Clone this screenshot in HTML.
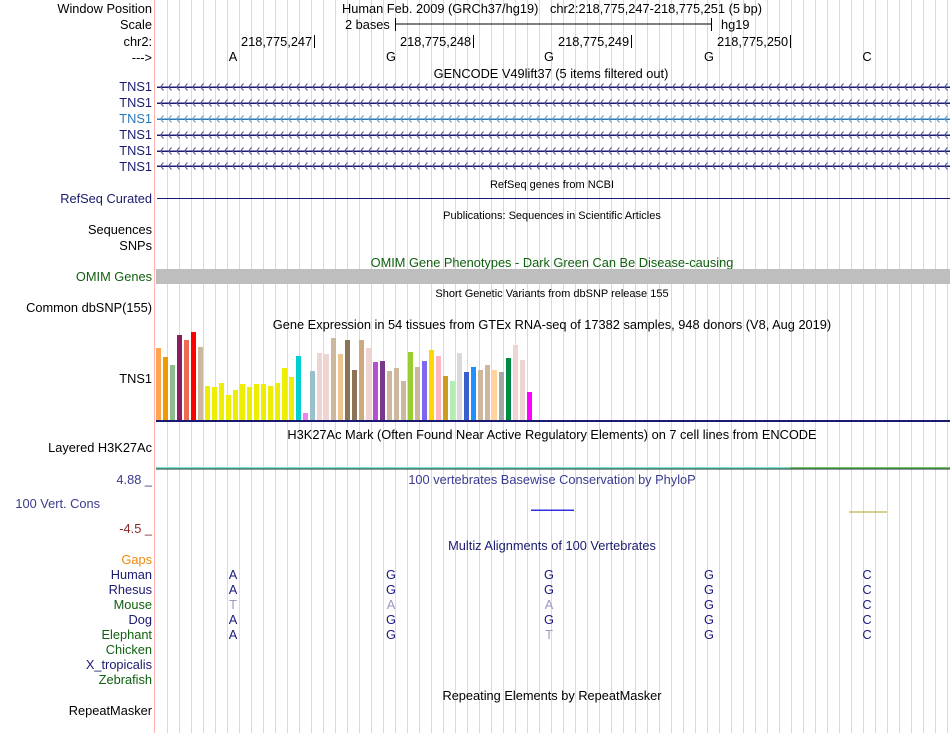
<!DOCTYPE html>
<html><head><meta charset="utf-8"><style>
html,body{margin:0;padding:0;background:#fff;}
svg{display:block;font-family:"Liberation Sans",sans-serif;}
</style></head><body>
<svg width="950" height="733" viewBox="0 0 950 733" xmlns="http://www.w3.org/2000/svg">
<defs>
<pattern id="grid" x="167" y="0" width="12" height="733" patternUnits="userSpaceOnUse">
<rect x="0" y="0" width="1" height="733" fill="#d6d6f6"/>
</pattern>
</defs>
<rect width="950" height="733" fill="#fff"/>
<rect x="156" y="0" width="794" height="733" fill="url(#grid)"/>
<rect x="154" y="0" width="1" height="733" fill="#ffb0b0"/>

<g font-size="12.8" fill="#000" text-anchor="end">
<text x="152" y="13">Window Position</text>
<text x="152" y="29">Scale</text>
<text x="152" y="46">chr2:</text>
<text x="152" y="62">---&gt;</text>
</g>
<g font-size="12.8" fill="#000">
<text x="342" y="13">Human Feb. 2009 (GRCh37/hg19)</text>
<text x="550" y="13">chr2:218,775,247-218,775,251 (5 bp)</text>
<text x="345" y="29">2 bases</text>
<text x="721" y="29">hg19</text>
<line x1="395" y1="24" x2="711" y2="24" stroke="#000"/>
<line x1="395.5" y1="18" x2="395.5" y2="31" stroke="#000"/>
<line x1="711.5" y1="18" x2="711.5" y2="31" stroke="#000"/>
<text x="241" y="46">218,775,247</text><line x1="314.5" y1="35" x2="314.5" y2="48" stroke="#000"/>
<text x="400" y="46">218,775,248</text><line x1="473.5" y1="35" x2="473.5" y2="48" stroke="#000"/>
<text x="558" y="46">218,775,249</text><line x1="631.5" y1="35" x2="631.5" y2="48" stroke="#000"/>
<text x="717" y="46">218,775,250</text><line x1="790.5" y1="35" x2="790.5" y2="48" stroke="#000"/>
<g text-anchor="middle">
<text x="233" y="61">A</text><text x="391" y="61">G</text><text x="549" y="61">G</text><text x="709" y="61">G</text><text x="867" y="61">C</text>
<text x="551" y="78">GENCODE V49lift37 (5 items filtered out)</text>
</g>
</g>

<g font-size="12.8" text-anchor="end" fill="#1a1a70">
<text x="152" y="91">TNS1</text><text x="152" y="107">TNS1</text>
<text x="152" y="123" fill="#2a78b8">TNS1</text>
<text x="152" y="139">TNS1</text><text x="152" y="155">TNS1</text><text x="152" y="171">TNS1</text>
</g>
<rect x="157" y="86.5" width="793" height="1.5" fill="#1a1a70"/>
<rect x="157" y="102.5" width="793" height="1.5" fill="#1a1a70"/>
<rect x="157" y="118.5" width="793" height="1.5" fill="#2a78b8"/>
<rect x="157" y="134.5" width="793" height="1.5" fill="#1a1a70"/>
<rect x="157" y="150.5" width="793" height="1.5" fill="#1a1a70"/>
<rect x="157" y="165.5" width="793" height="1.5" fill="#1a1a70"/>
<svg x="157" y="0" width="793" height="733">
<defs>
<pattern id="c1" x="1" y="0" width="8" height="733" patternUnits="userSpaceOnUse">
<path d="M5.5,83.5 L2.5,87 L5.5,90.5 M5.5,99.5 L2.5,103 L5.5,106.5 M5.5,131.5 L2.5,135 L5.5,138.5 M5.5,147.5 L2.5,151 L5.5,154.5 M5.5,162.5 L2.5,166 L5.5,169.5" fill="none" stroke="#5050a0" stroke-width="1"/>
<path d="M5.5,115.5 L2.5,119 L5.5,122.5" fill="none" stroke="#5a98c8" stroke-width="1"/>
</pattern>
</defs>
<rect x="0" y="80" width="793" height="92" fill="url(#c1)"/>
</svg>

<text x="552" y="188" font-size="11" text-anchor="middle" fill="#000">RefSeq genes from NCBI</text>
<text x="152" y="203" font-size="12.8" text-anchor="end" fill="#1a1a70">RefSeq Curated</text>
<rect x="157" y="198" width="793" height="1" fill="#1a1a70"/>
<text x="552" y="219" font-size="11" text-anchor="middle" fill="#000">Publications: Sequences in Scientific Articles</text>
<text x="152" y="234" font-size="12.8" text-anchor="end">Sequences</text>
<text x="152" y="250" font-size="12.8" text-anchor="end">SNPs</text>
<text x="552" y="267" font-size="12.8" text-anchor="middle" fill="#106010">OMIM Gene Phenotypes - Dark Green Can Be Disease-causing</text>
<text x="152" y="281" font-size="12.8" text-anchor="end" fill="#106010">OMIM Genes</text>
<rect x="156" y="269" width="794" height="15" fill="#bebebe"/>
<text x="552" y="297" font-size="11" text-anchor="middle">Short Genetic Variants from dbSNP release 155</text>
<text x="152" y="312" font-size="12.8" text-anchor="end">Common dbSNP(155)</text>
<text x="552" y="329" font-size="12.8" text-anchor="middle">Gene Expression in 54 tissues from GTEx RNA-seq of 17382 samples, 948 donors (V8, Aug 2019)</text>
<text x="152" y="383" font-size="12.8" text-anchor="end">TNS1</text>
<g>
<rect x="156" y="348" width="5" height="72" fill="#FFA54F"/>
<rect x="163" y="357" width="5" height="63" fill="#EE9A00"/>
<rect x="170" y="365" width="5" height="55" fill="#8FBC8F"/>
<rect x="177" y="335" width="5" height="85" fill="#8B1C62"/>
<rect x="184" y="340" width="5" height="80" fill="#EE6A50"/>
<rect x="191" y="332" width="5" height="88" fill="#FF0000"/>
<rect x="198" y="347" width="5" height="73" fill="#CDB79E"/>
<rect x="205" y="386" width="5" height="34" fill="#EEEE00"/>
<rect x="212" y="387" width="5" height="33" fill="#EEEE00"/>
<rect x="219" y="383" width="5" height="37" fill="#EEEE00"/>
<rect x="226" y="395" width="5" height="25" fill="#EEEE00"/>
<rect x="233" y="390" width="5" height="30" fill="#EEEE00"/>
<rect x="240" y="384" width="5" height="36" fill="#EEEE00"/>
<rect x="247" y="387" width="5" height="33" fill="#EEEE00"/>
<rect x="254" y="384" width="5" height="36" fill="#EEEE00"/>
<rect x="261" y="384" width="5" height="36" fill="#EEEE00"/>
<rect x="268" y="386" width="5" height="34" fill="#EEEE00"/>
<rect x="275" y="383" width="5" height="37" fill="#EEEE00"/>
<rect x="282" y="368" width="5" height="52" fill="#EEEE00"/>
<rect x="289" y="377" width="5" height="43" fill="#EEEE00"/>
<rect x="296" y="356" width="5" height="64" fill="#00CED1"/>
<rect x="303" y="413" width="5" height="7" fill="#EE82EE"/>
<rect x="310" y="371" width="5" height="49" fill="#9AC0CD"/>
<rect x="317" y="353" width="5" height="67" fill="#EED5D2"/>
<rect x="324" y="354" width="5" height="66" fill="#EED5D2"/>
<rect x="331" y="338" width="5" height="82" fill="#CDB79E"/>
<rect x="338" y="354" width="5" height="66" fill="#EEC591"/>
<rect x="345" y="340" width="5" height="80" fill="#8B7355"/>
<rect x="352" y="370" width="5" height="50" fill="#8B7355"/>
<rect x="359" y="340" width="5" height="80" fill="#CDAA7D"/>
<rect x="366" y="348" width="5" height="72" fill="#EED5D2"/>
<rect x="373" y="362" width="5" height="58" fill="#B452CD"/>
<rect x="380" y="361" width="5" height="59" fill="#7A378B"/>
<rect x="387" y="371" width="5" height="49" fill="#CDB79E"/>
<rect x="394" y="368" width="5" height="52" fill="#CDB79E"/>
<rect x="401" y="381" width="5" height="39" fill="#CDB79E"/>
<rect x="408" y="352" width="5" height="68" fill="#9ACD32"/>
<rect x="415" y="367" width="5" height="53" fill="#CDB79E"/>
<rect x="422" y="361" width="5" height="59" fill="#7B68EE"/>
<rect x="429" y="350" width="5" height="70" fill="#FFD700"/>
<rect x="436" y="356" width="5" height="64" fill="#FFB6C1"/>
<rect x="443" y="376" width="5" height="44" fill="#CD9B1D"/>
<rect x="450" y="381" width="5" height="39" fill="#B4EEB4"/>
<rect x="457" y="353" width="5" height="67" fill="#D9D9D9"/>
<rect x="464" y="372" width="5" height="48" fill="#3A5FCD"/>
<rect x="471" y="367" width="5" height="53" fill="#1E90FF"/>
<rect x="478" y="370" width="5" height="50" fill="#CDB79E"/>
<rect x="485" y="365" width="5" height="55" fill="#CDB79E"/>
<rect x="492" y="370" width="5" height="50" fill="#FFD39B"/>
<rect x="499" y="372" width="5" height="48" fill="#A6A6A6"/>
<rect x="506" y="358" width="5" height="62" fill="#008B45"/>
<rect x="513" y="345" width="5" height="75" fill="#EED5D2"/>
<rect x="520" y="360" width="5" height="60" fill="#EED5D2"/>
<rect x="527" y="392" width="5" height="28" fill="#FF00FF"/>
</g>
<rect x="156" y="420" width="794" height="2" fill="#1a1a70"/>

<text x="552" y="439" font-size="12.8" text-anchor="middle">H3K27Ac Mark (Often Found Near Active Regulatory Elements) on 7 cell lines from ENCODE</text>
<text x="152" y="452" font-size="12.8" text-anchor="end">Layered H3K27Ac</text>
<rect x="156" y="467" width="794" height="1.5" fill="#78e0c8"/>
<rect x="790" y="467" width="160" height="1.5" fill="#70c060"/>
<rect x="156" y="468.5" width="794" height="1" fill="#1a3a3a"/>

<text x="152" y="484" font-size="12.8" text-anchor="end" fill="#3a3a90">4.88 _</text>
<text x="552" y="484" font-size="12.8" text-anchor="middle" fill="#3a3a90">100 vertebrates Basewise Conservation by PhyloP</text>
<text x="100" y="508" font-size="12.8" text-anchor="end" fill="#3a3a90">100 Vert. Cons</text>
<text x="152" y="533" font-size="12.8" text-anchor="end" fill="#8a2a2a">-4.5 _</text>
<rect x="531" y="509.5" width="43" height="1.5" fill="#3030e0"/>
<rect x="849" y="511.5" width="38" height="1" fill="#b0a020"/>

<text x="552" y="550" font-size="12.8" text-anchor="middle" fill="#1a1a70">Multiz Alignments of 100 Vertebrates</text>
<g font-size="12.8" text-anchor="end">
<text x="152" y="564" fill="#f08a10">Gaps</text>
<text x="152" y="579" fill="#1a1a70">Human</text>
<text x="152" y="594" fill="#1a1a70">Rhesus</text>
<text x="152" y="609" fill="#106010">Mouse</text>
<text x="152" y="624" fill="#1a1a70">Dog</text>
<text x="152" y="639" fill="#106010">Elephant</text>
<text x="152" y="654" fill="#106010">Chicken</text>
<text x="152" y="669" fill="#1a1a70">X_tropicalis</text>
<text x="152" y="684" fill="#106010">Zebrafish</text>
<text x="152" y="715" fill="#000">RepeatMasker</text>
</g>
<g font-size="12.8" text-anchor="middle" fill="#1a1a80">
<text x="233" y="579">A</text><text x="391" y="579">G</text><text x="549" y="579">G</text><text x="709" y="579">G</text><text x="867" y="579">C</text>
<text x="233" y="594">A</text><text x="391" y="594">G</text><text x="549" y="594">G</text><text x="709" y="594">G</text><text x="867" y="594">C</text>
<text x="233" y="609" fill="#9a9ac0">T</text><text x="391" y="609" fill="#9a9ac0">A</text><text x="549" y="609" fill="#9a9ac0">A</text><text x="709" y="609">G</text><text x="867" y="609">C</text>
<text x="233" y="624">A</text><text x="391" y="624">G</text><text x="549" y="624">G</text><text x="709" y="624">G</text><text x="867" y="624">C</text>
<text x="233" y="639">A</text><text x="391" y="639">G</text><text x="549" y="639" fill="#9a9ac0">T</text><text x="709" y="639">G</text><text x="867" y="639">C</text>
</g>
<text x="552" y="700" font-size="12.8" text-anchor="middle">Repeating Elements by RepeatMasker</text>
</svg>
</body></html>
